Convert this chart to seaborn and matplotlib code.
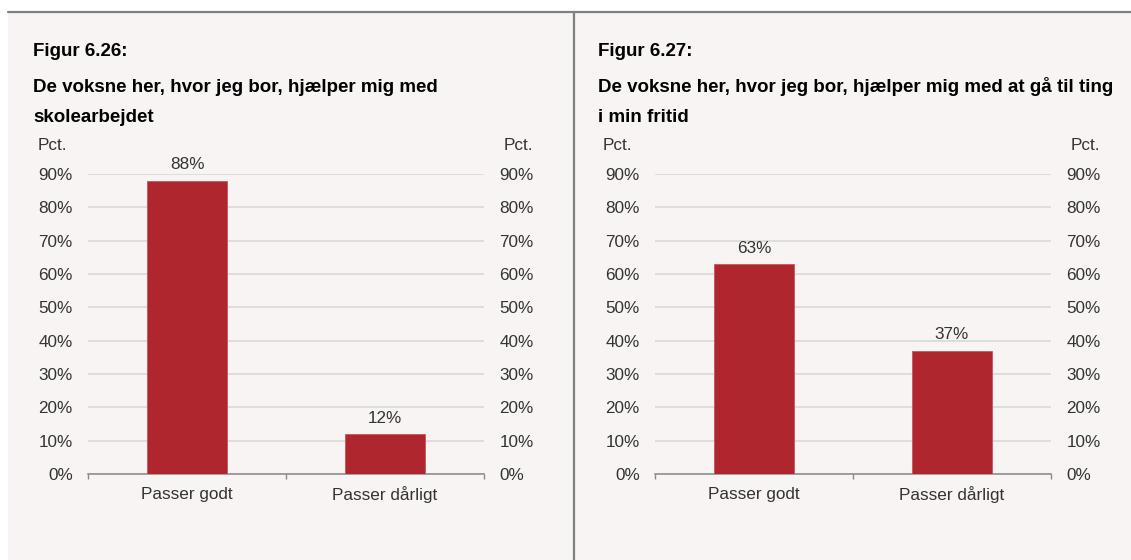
import matplotlib
matplotlib.use("Agg")
import matplotlib.pyplot as plt
import pandas as pd
import seaborn as sns
from matplotlib.lines import Line2D
from matplotlib.patches import Rectangle
from matplotlib.ticker import FixedLocator, FuncFormatter

# chart data
categories = ["Passer godt", "Passer dårligt"]
values_626 = [88, 12]
values_627 = [63, 37]
fig_labels = ["Figur 6.26:", "Figur 6.27:"]
subtitles = [
    ["De voksne her, hvor jeg bor, hjælper mig med", "skolearbejdet"],
    ["De voksne her, hvor jeg bor, hjælper mig med at gå til ting", "i min fritid"],
]
y_ticks = [0, 10, 20, 30, 40, 50, 60, 70, 80, 90]

BAR_COLOR = "#B0262F"
BG = "#F7F4F3"
TEXT = "#333333"
FS = 12.3

sns.set_theme(style="white")
plt.rcParams["font.family"] = ["Liberation Sans", "DejaVu Sans"]

W, H = 1131, 560
fig = plt.figure(figsize=(W / 100, H / 100), dpi=100)
fig.patch.set_facecolor("white")

# panel background and frame lines
fig.patches.append(Rectangle((8 / W, 0), 1 - 8 / W, 1 - 12 / H, transform=fig.transFigure,
                             facecolor=BG, edgecolor="none", zorder=-10))
fig.lines.append(Line2D([8 / W, 1], [1 - 12 / H, 1 - 12 / H], transform=fig.transFigure,
                        color="#808080", lw=1.6, zorder=-5))
fig.lines.append(Line2D([574 / W, 574 / W], [0, 1 - 12 / H], transform=fig.transFigure,
                        color="#808080", lw=1.6, zorder=-5))


def draw_panel(left_px, values, fig_label, subtitle, text_x):
    ax = fig.add_axes([left_px / W, 1 - 474 / H, 396 / W, 300 / H])
    ax.set_facecolor("none")
    df = pd.DataFrame({"kategori": categories, "pct": values})
    sns.barplot(data=df, x="kategori", y="pct", color=BAR_COLOR, saturation=1,
                width=0.4, ax=ax, edgecolor="#C9555C", linewidth=0.6, zorder=3)
    ax.set_ylim(0, 90)
    ax.set_xlim(-0.5, 1.5)
    ax.yaxis.set_major_locator(FixedLocator(y_ticks))
    ax.yaxis.set_major_formatter(FuncFormatter(lambda v, p: f"{v:.0f}%"))
    ax.grid(axis="y", color="#D6D6D6", lw=1.1, zorder=0)
    ax.set_axisbelow(True)
    for side in ["top", "left", "right"]:
        ax.spines[side].set_visible(False)
    ax.spines["bottom"].set_color("#888888")
    ax.spines["bottom"].set_linewidth(1.1)
    ax.tick_params(axis="y", left=False, right=False, length=0, labelleft=True,
                   labelright=True, labelsize=FS, labelcolor=TEXT, pad=11)
    ax.set_xticks([-0.5, 0.5, 1.5], minor=True)
    ax.tick_params(axis="x", which="minor", bottom=True, length=3.5, width=1.0,
                   color="#888888", direction="out")
    ax.tick_params(axis="x", which="major", bottom=False, length=0, labelsize=FS,
                   labelcolor=TEXT, pad=9)
    ax.set_xlabel("")
    ax.set_ylabel("")
    for cont in ax.containers:
        ax.bar_label(cont, labels=[f"{v}%" for v in values], padding=6,
                     fontsize=FS, color=TEXT, clip_on=False)

    fig.text(text_x / W, 1 - 52 / H, fig_label, fontsize=13.5, fontweight="bold",
             color="black", va="center", ha="left")
    for i, line in enumerate(subtitle):
        fig.text(text_x / W, 1 - (87 + 31 * i) / H, line, fontsize=13.5, fontweight="bold",
                 color="black", va="center", ha="left")
    fig.text((text_x + 5) / W, 1 - 145 / H, "Pct.", fontsize=FS, color=TEXT,
             va="center", ha="left")
    fig.text((left_px + 445) / W, 1 - 145 / H, "Pct.", fontsize=FS, color=TEXT,
             va="center", ha="right")
    return ax


draw_panel(88, values_626, fig_labels[0], subtitles[0], 33)
draw_panel(655, values_627, fig_labels[1], subtitles[1], 598)

fig.savefig("out.png", dpi=100, facecolor=fig.get_facecolor())
